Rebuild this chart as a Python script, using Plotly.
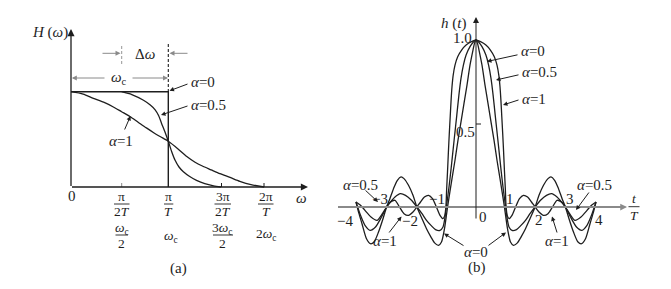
import plotly.graph_objects as go

W, H = 671, 289
FONT = "Liberation Serif"
INK = "#1e1e1e"
GRAY = "#8a8a8a"
FS = 15
FF = 13.5  # fraction font

# ---------------- panel (a): H(omega), omega in units of pi/(2T) ----------------
w_a0 = [0, 2.0, 2.0]
H_a0 = [1.0, 1.0, 0.0]
w_a05 = [1.04, 1.25, 1.49, 1.63, 1.73, 1.8, 1.86, 1.93, 2.0, 2.07, 2.14, 2.22, 2.31, 2.44, 2.58, 2.75, 2.93, 3.08]
H_a05 = [1.0, 0.97, 0.91, 0.86, 0.81, 0.75, 0.67, 0.58, 0.48, 0.37, 0.28, 0.21, 0.16, 0.11, 0.07, 0.035, 0.012, 0.0]
w_a1 = [0, 0.25, 0.46, 0.67, 0.87, 1.04, 1.21, 1.38, 1.55, 1.7, 1.83, 2.0, 2.2, 2.38, 2.55, 2.7, 2.88, 3.06, 3.27, 3.47, 3.7, 3.97]
H_a1 = [1.0, 0.975, 0.93, 0.89, 0.84, 0.79, 0.74, 0.68, 0.62, 0.57, 0.53, 0.48, 0.4, 0.32, 0.26, 0.22, 0.18, 0.14, 0.1, 0.06, 0.025, 0.0]

# ---------------- panel (b): h(t), t in units of T ----------------
t_b0 = [-4.0, -3.9, -3.8, -3.65, -3.52, -3.4, -3.25, -3.1, -2.98, -2.87,
        -2.75, -2.62, -2.5, -2.4, -2.25, -2.1, -1.97, -1.8, -1.65, -1.5,
        -1.38, -1.25, -1.15, -1.05, -0.94, -0.8, -0.7, -0.6, -0.5, -0.4,
        -0.3, -0.2, -0.1, -0.05, 0,
        0.05, 0.1, 0.2, 0.3, 0.4, 0.5, 0.6, 0.7, 0.8, 0.94,
        1.05, 1.15, 1.25, 1.38, 1.5, 1.65, 1.8, 1.97, 2.1, 2.25,
        2.4, 2.5, 2.62, 2.75, 2.87, 2.98, 3.1, 3.25, 3.4, 3.52,
        3.65, 3.8, 3.9, 4.0]
h_b0 = [0.03, -0.04, -0.1, -0.19, -0.22, -0.21, -0.15, -0.07, 0.0, 0.05,
        0.11, 0.16, 0.18, 0.17, 0.13, 0.07, 0.0, -0.07, -0.13, -0.18,
        -0.215, -0.23, -0.21, -0.13, 0.01, 0.17, 0.28, 0.4, 0.51, 0.62,
        0.73, 0.85, 0.94, 0.98, 1.0,
        0.98, 0.94, 0.85, 0.73, 0.62, 0.51, 0.4, 0.28, 0.17, 0.01,
        -0.13, -0.21, -0.23, -0.215, -0.18, -0.13, -0.07, 0.0, 0.07, 0.13,
        0.17, 0.18, 0.16, 0.11, 0.05, 0.0, -0.07, -0.15, -0.21, -0.22,
        -0.19, -0.1, -0.04, 0.03]
t_b05 = [-4.0, -3.85, -3.7, -3.53, -3.35, -3.15, -2.98, -2.85, -2.7, -2.52,
         -2.35, -2.15, -1.97, -1.8, -1.65, -1.5, -1.35, -1.2, -1.1, -1.04,
         -0.98, -0.9, -0.83, -0.73, -0.64, -0.57, -0.5, -0.42, -0.33, -0.2,
         -0.1, 0,
         0.1, 0.2, 0.33, 0.42, 0.5, 0.57, 0.64, 0.73, 0.83, 0.9,
         0.98, 1.04, 1.1, 1.2, 1.35, 1.5, 1.65, 1.8, 1.97, 2.15,
         2.35, 2.52, 2.7, 2.85, 2.98, 3.15, 3.35, 3.53, 3.7, 3.85, 4.0]
h_b05 = [0.03, -0.05, -0.11, -0.14, -0.12, -0.06, 0.0, 0.03, 0.06, 0.08,
         0.07, 0.04, 0.0, -0.04, -0.08, -0.11, -0.135, -0.14, -0.12, -0.07,
         0.01, 0.12, 0.23, 0.4, 0.55, 0.67, 0.77, 0.85, 0.91, 0.96,
         0.985, 1.0,
         0.985, 0.96, 0.91, 0.85, 0.77, 0.67, 0.55, 0.4, 0.23, 0.12,
         0.01, -0.07, -0.12, -0.14, -0.135, -0.11, -0.08, -0.04, 0.0, 0.04,
         0.07, 0.08, 0.06, 0.03, 0.0, -0.06, -0.12, -0.14, -0.11, -0.05, 0.03]
t_b1 = [-4.0, -3.85, -3.7, -3.5, -3.3, -3.12, -2.98, -2.85, -2.7, -2.55,
        -2.4, -2.25, -2.1, -1.97, -1.85, -1.72, -1.58, -1.45, -1.32, -1.2,
        -1.1, -1.04, -1.0, -0.98, -0.95, -0.92, -0.89, -0.86, -0.83, -0.8,
        -0.76, -0.7, -0.61, -0.48, -0.33, -0.15, 0,
        0.15, 0.33, 0.48, 0.61, 0.7, 0.76, 0.8, 0.83, 0.86, 0.89,
        0.92, 0.95, 0.98, 1.0, 1.04, 1.1, 1.2, 1.32, 1.45, 1.58,
        1.72, 1.85, 1.97, 2.1, 2.25, 2.4, 2.55, 2.7, 2.85, 2.98,
        3.12, 3.3, 3.5, 3.7, 3.85, 4.0]
h_b1 = [0.03, 0.01, -0.02, -0.06, -0.08, -0.04, 0.0, 0.03, 0.04, 0.0,
        -0.04, -0.05, -0.03, 0.0, 0.03, 0.06, 0.07, 0.05, 0.0, -0.05,
        -0.07, -0.05, 0.01, 0.1, 0.21, 0.33, 0.44, 0.54, 0.64, 0.72,
        0.79, 0.85, 0.9, 0.94, 0.97, 0.99, 1.0,
        0.99, 0.97, 0.94, 0.9, 0.85, 0.79, 0.72, 0.64, 0.54, 0.44,
        0.33, 0.21, 0.1, 0.01, -0.05, -0.07, -0.05, 0.0, 0.05, 0.07,
        0.06, 0.03, 0.0, -0.03, -0.05, -0.04, 0.0, 0.04, 0.03, 0.0,
        -0.04, -0.08, -0.06, -0.02, 0.01, 0.03]


def P(px, py):
    return px / W, 1 - py / H


fig = go.Figure()
line = dict(color=INK, width=1.4)
spl = dict(color=INK, width=1.3, shape="spline", smoothing=0.7)
fig.add_trace(go.Scatter(x=w_a0, y=H_a0, mode="lines", line=line, xaxis="x", yaxis="y"))
fig.add_trace(go.Scatter(x=w_a05, y=H_a05, mode="lines", line=spl, xaxis="x", yaxis="y"))
fig.add_trace(go.Scatter(x=w_a1, y=H_a1, mode="lines", line=spl, xaxis="x", yaxis="y"))
for tt, hh in [(t_b0, h_b0), (t_b05, h_b05), (t_b1, h_b1)]:
    fig.add_trace(go.Scatter(x=tt, y=hh, mode="lines", line=spl, xaxis="x2", yaxis="y2"))

ann = []


def text(s, px, py, size=FS, xanchor="center", color=INK):
    x, y = P(px, py)
    ann.append(dict(text=s, x=x, y=y, xref="paper", yref="paper", showarrow=False,
                    xanchor=xanchor, yanchor="middle", borderpad=0,
                    font=dict(family=FONT, size=size, color=color)))


def arrow(tip, tail, color=INK, width=1.0, size=0.9, head=2):
    x, y = P(*tip)
    ann.append(dict(text="", x=x, y=y, xref="paper", yref="paper", showarrow=True,
                    ax=tail[0] - tip[0], ay=tail[1] - tip[1], axref="pixel", ayref="pixel",
                    arrowhead=head, arrowsize=size, arrowwidth=width, arrowcolor=color,
                    standoff=0, startstandoff=0))


shapes = []


def seg(p0, p1, color=INK, width=1.0, dash="solid"):
    x0, y0 = P(*p0)
    x1, y1 = P(*p1)
    shapes.append(dict(type="line", xref="paper", yref="paper", x0=x0, y0=y0, x1=x1, y1=y1,
                       line=dict(color=color, width=width, dash=dash)))


# ----- panel (a) decorations -----
arrow((71, 29), (71, 187.5), width=1.3, size=1.1)
arrow((308, 187), (70.5, 187), width=1.3, size=1.1)
text("<i>H</i> (<i>ω</i>)", 50, 33)
text("<i>ω</i>", 301, 198)
text("0", 72, 196)
seg((121.7, 187), (121.7, 183), color=GRAY)
seg((221.5, 187), (221.5, 183))
seg((264, 187), (264, 183))
seg((168.3, 44), (168.3, 91.7), width=1.1, dash="3px,2px")
seg((121.7, 46), (121.7, 64), color=GRAY, width=0.9, dash="3px,2px")
arrow((120.5, 53.3), (101, 53.3), color=GRAY, size=1.0)
arrow((169.5, 53.3), (189, 53.3), color=GRAY, size=1.0)
text("Δ<i>ω</i>", 145, 54)
arrow((71.8, 78), (106, 78), color=GRAY, size=1.0)
arrow((168, 78), (131, 78), color=GRAY, size=1.0)
text("<i>ω</i><sub>c</sub>", 118.5, 78)
frac_a = [
    (121.7, "π", "2<i>T</i>", 114, 129.5),
    (168.5, "π", "<i>T</i>", 164, 173.3),
    (222.5, "3π", "2<i>T</i>", 214.5, 231),
    (266, "2π", "<i>T</i>", 258, 273.5),
]
for cx, num, den, b0, b1 in frac_a:
    text(num, cx, 196, FF)
    text(den, cx, 211.5, FF)
    seg((b0, 204), (b1, 204), width=0.9)
text("<i>ω</i><sub>c</sub>", 121.7, 228.5, FF)
seg((115.5, 235), (128, 235), width=0.9)
text("2", 121.7, 244, FF)
text("<i>ω</i><sub>c</sub>", 170.5, 236, FF)
text("3<i>ω</i><sub>c</sub>", 222.5, 228.5, FF)
seg((213, 235), (233, 235), width=0.9)
text("2", 222.5, 244, FF)
text("2<i>ω</i><sub>c</sub>", 266, 234, FF)
text("(a)", 178.3, 268.5)
text("<i>α</i>=0", 190, 82, xanchor="left")
arrow((169.5, 90.8), (189, 83.5))
text("<i>α</i>=0.5", 190, 105, xanchor="left")
arrow((161, 115), (189, 105.5))
text("<i>α</i>=1", 121, 141)
arrow((130.5, 116), (124, 131))

# ----- panel (b) decorations -----
arrow((627, 207), (336.5, 207), color=GRAY, width=1.8, size=0.75)
arrow((476, 17), (476, 220), width=1.0, size=1.2)
seg((476, 124), (481, 124), width=1.0)
text("<i>h</i> (<i>t</i>)", 453, 24)
text("1.0", 462, 37.5)
text("0.5", 465, 131.5)
text("<i>t</i>", 634, 198.5, FF)
seg((628.5, 206.7), (639.5, 206.7), width=0.9)
text("<i>T</i>", 634, 215, FF)
for lab, px, py in [("1", 510, 199), ("−1", 437, 199), ("2", 538.5, 220), ("−2", 410, 220.5),
                    ("3", 570, 199), ("−3", 380, 199), ("4", 598.5, 220), ("−4", 345, 220.5),
                    ("0", 483, 217)]:
    text(lab, px, py)
text("(b)", 477, 267.5)
text("<i>α</i>=0", 520, 51.5, xanchor="left")
arrow((487, 61.5), (519, 54.5))
text("<i>α</i>=0.5", 521, 71.5, xanchor="left")
arrow((496, 80), (520, 74.5))
text("<i>α</i>=1", 521, 98.5, xanchor="left")
arrow((503, 105), (520, 99.5))
text("<i>α</i>=0.5", 360, 185)
arrow((378, 202), (364, 189))
text("<i>α</i>=1", 385, 241)
arrow((401.5, 216.5), (388, 234))
text("<i>α</i>=0.5", 594, 185)
arrow((576, 210), (590, 191))
text("<i>α</i>=1", 557, 241)
arrow((552, 216.5), (557.5, 234))
text("<i>α</i>=0", 476, 252)
arrow((444, 233.5), (465, 246.5))
arrow((506, 232.5), (487, 246.5))

ax_common = dict(visible=False, fixedrange=True)
fig.update_layout(
    width=W, height=H, autosize=False,
    margin=dict(l=0, r=0, t=0, b=0, pad=0),
    paper_bgcolor="white", plot_bgcolor="rgba(0,0,0,0)",
    showlegend=False,
    xaxis=dict(ax_common, domain=[0, 0.5], range=[-71 / 48.65, (335.5 - 71) / 48.65]),
    yaxis=dict(ax_common, domain=[0, 1], range=[(187 - 289) / 95.3, 187 / 95.3]),
    xaxis2=dict(ax_common, domain=[0.5, 1], range=[(335.5 - 476) / 30, (671 - 476) / 30]),
    yaxis2=dict(ax_common, domain=[0, 1], range=[(207 - 289) / 167, 207 / 167], anchor="x2"),
    annotations=ann, shapes=shapes,
)
fig.write_html("out.html")
